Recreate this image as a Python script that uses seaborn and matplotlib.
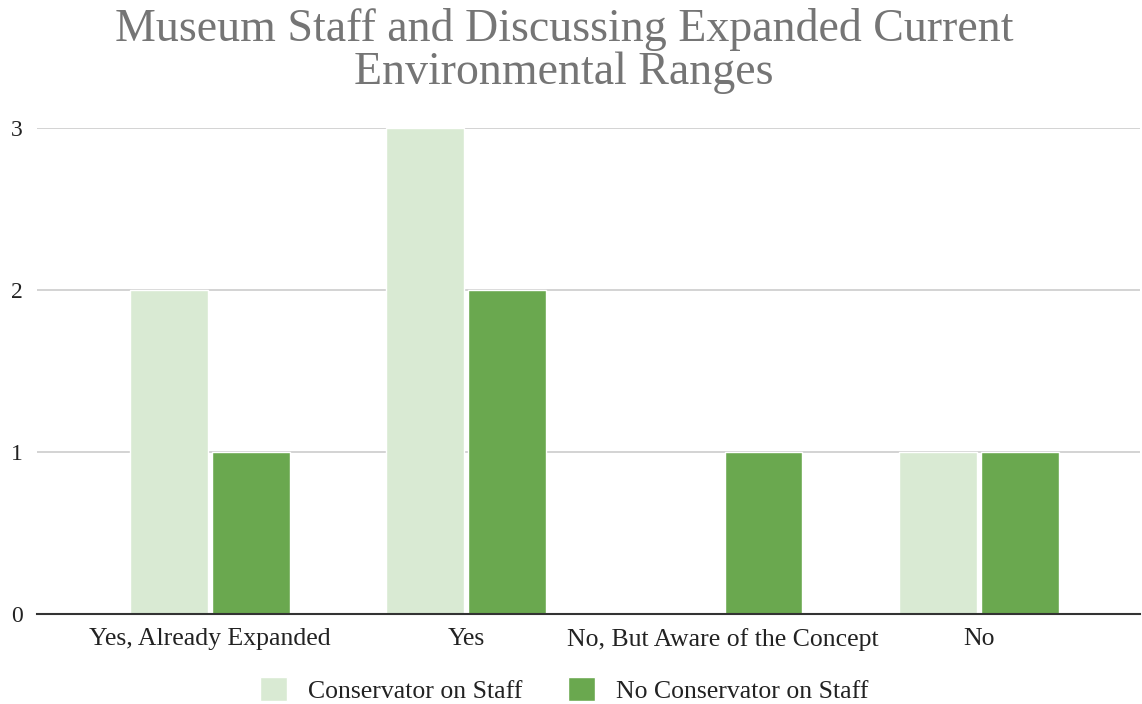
import matplotlib
matplotlib.use("Agg")
import matplotlib.pyplot as plt
import pandas as pd
import seaborn as sns

categories = ["Yes, Already Expanded", "Yes", "No, But Aware of the Concept", "No"]
conservator = [2, 3, 0, 1]
no_conservator = [1, 2, 1, 1]
series_names = ["Conservator on Staff", "No Conservator on Staff"]
colors = ["#d9ead3", "#6aa84f"]

df = pd.DataFrame({
    "category": categories * 2,
    "count": conservator + no_conservator,
    "series": [series_names[0]] * 4 + [series_names[1]] * 4,
})

sns.set_style("white")
plt.rcParams["font.family"] = ["Liberation Serif", "DejaVu Serif"]

fig = plt.figure(figsize=(11.42, 7.04), dpi=100)
ax = fig.add_axes([37 / 1142, 90 / 704, 1103 / 1142, 486 / 704])

sns.barplot(data=df, x="category", y="count", hue="series", order=categories,
            hue_order=series_names, palette=colors, width=0.64, gap=0.05,
            saturation=1, ax=ax, legend=True)

ax.set_xlim(-0.676, 3.63)
ax.set_ylim(0, 3)
ax.set_yticks([0, 1, 2, 3])
ax.grid(axis="y", color="#cccccc", linewidth=1.2)
ax.set_axisbelow(True)
for s in ["top", "right", "left"]:
    ax.spines[s].set_visible(False)
ax.spines["bottom"].set_color("#333333")
ax.spines["bottom"].set_linewidth(1.5)
ax.tick_params(axis="y", length=0, labelsize=17, colors="#222222", pad=10)
ax.tick_params(axis="x", length=0, labelsize=18.5, colors="#222222", pad=10)
ax.set_xlabel("")
ax.set_ylabel("")

leg = ax.legend(loc="upper center", bbox_to_anchor=(0.478, -0.083), ncol=2,
                frameon=False, fontsize=18.5, handlelength=1.05, handleheight=1.05,
                columnspacing=1.8, handletextpad=0.8)
for t in leg.get_texts():
    t.set_color("#222222")

fig.text(0.494, 0.988, "Museum Staff and Discussing Expanded Current\nEnvironmental Ranges",
         ha="center", va="top", fontsize=33, color="#757575", linespacing=0.99)

fig.savefig("out.png", dpi=100)
